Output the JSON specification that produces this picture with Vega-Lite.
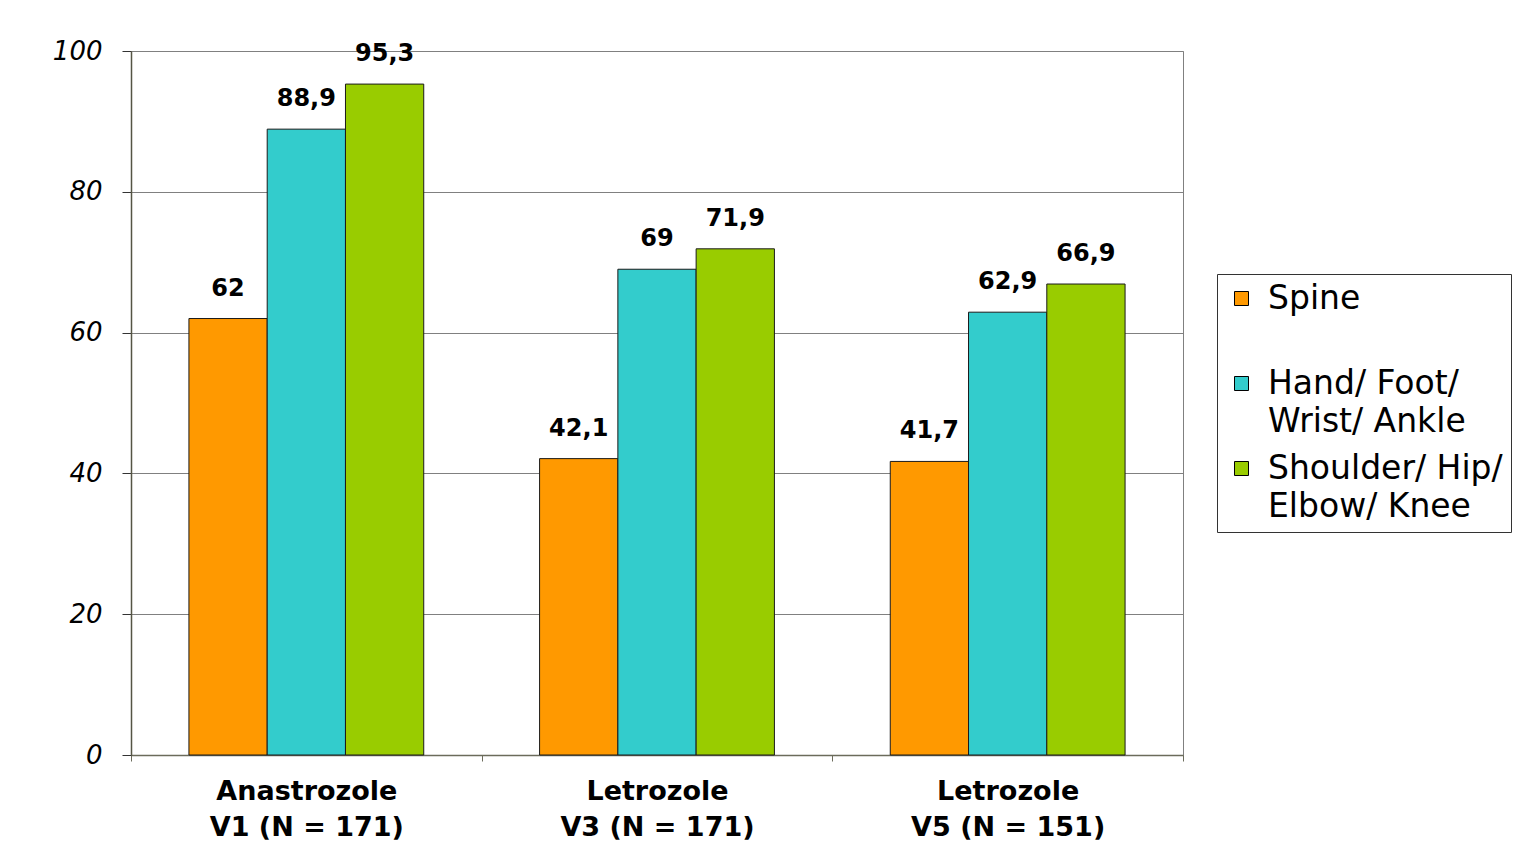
{
  "$schema": "https://vega.github.io/schema/vega-lite/v6.json",
  "width": 1052,
  "height": 704,
  "autosize": {"type": "none"},
  "padding": {"left": 131, "top": 51, "right": 331, "bottom": 111},
  "background": "white",
  "config": {
    "locale": {"number": {"decimal": ",", "thousands": ".", "grouping": [3], "currency": ["", " €"]}},
    "view": {"stroke": "#808080", "strokeWidth": 1},
    "font": "DejaVu Sans",
    "style": {"guide-label": {"lineHeight": 38}}
  },
  "data": {
    "values": [
      {"group": "Anastrozole V1 (N = 171)", "part": "Spine", "value": 62},
      {"group": "Anastrozole V1 (N = 171)", "part": "Hand/ Foot/ Wrist/ Ankle", "value": 88.9},
      {"group": "Anastrozole V1 (N = 171)", "part": "Shoulder/ Hip/ Elbow/ Knee", "value": 95.3},
      {"group": "Letrozole V3 (N = 171)", "part": "Spine", "value": 42.1},
      {"group": "Letrozole V3 (N = 171)", "part": "Hand/ Foot/ Wrist/ Ankle", "value": 69},
      {"group": "Letrozole V3 (N = 171)", "part": "Shoulder/ Hip/ Elbow/ Knee", "value": 71.9},
      {"group": "Letrozole V5 (N = 151)", "part": "Spine", "value": 41.7},
      {"group": "Letrozole V5 (N = 151)", "part": "Hand/ Foot/ Wrist/ Ankle", "value": 62.9},
      {"group": "Letrozole V5 (N = 151)", "part": "Shoulder/ Hip/ Elbow/ Knee", "value": 66.9}
    ]
  },
  "encoding": {
    "x": {
      "field": "group",
      "type": "nominal",
      "sort": ["Anastrozole V1 (N = 171)", "Letrozole V3 (N = 171)", "Letrozole V5 (N = 151)"],
      "scale": {"paddingInner": 0, "paddingOuter": 0},
      "axis": {
        "title": null,
        "labelAngle": 0,
        "labelExpr": "[slice(datum.label, 0, indexof(datum.label, ' V')), slice(datum.label, indexof(datum.label, ' V') + 1)]",
        "labelFont": "DejaVu Sans",
        "labelFontWeight": "bold",
        "labelFontSize": 27,
        "labelLineHeight": 36,
        "labelBaseline": "top",
        "labelColor": "#000000",
        "labelPadding": 17,
        "labelLimit": 0,
        "tickBand": "extent",
        "tickSize": 6,
        "tickColor": "#6b6b5b",
        "domainColor": "#6b6b5b",
        "domainWidth": 1.5,
        "grid": false
      }
    },
    "xOffset": {
      "field": "part",
      "type": "nominal",
      "sort": ["Spine", "Hand/ Foot/ Wrist/ Ankle", "Shoulder/ Hip/ Elbow/ Knee"],
      "scale": {"paddingInner": 0, "paddingOuter": 0.74}
    },
    "y": {
      "field": "value",
      "type": "quantitative",
      "scale": {"domain": [0, 100], "nice": false},
      "axis": {
        "title": null,
        "values": [0, 20, 40, 60, 80, 100],
        "labelFont": "DejaVu Sans",
        "labelFontStyle": "italic",
        "labelFontSize": 26,
        "labelColor": "#000000",
        "labelPadding": 20,
        "tickSize": 9,
        "tickColor": "#333333",
        "domainColor": "#555544",
        "domainWidth": 1.5,
        "grid": true,
        "gridColor": "#808080",
        "gridWidth": 1
      }
    }
  },
  "layer": [
    {
      "mark": {"type": "bar", "stroke": "#1a1a1a", "strokeWidth": 1},
      "encoding": {
        "color": {
          "field": "part",
          "type": "nominal",
          "sort": ["Spine", "Hand/ Foot/ Wrist/ Ankle", "Shoulder/ Hip/ Elbow/ Knee"],
          "scale": {
            "domain": ["Spine", "Hand/ Foot/ Wrist/ Ankle", "Shoulder/ Hip/ Elbow/ Knee"],
            "range": ["#FF9900", "#33CCCC", "#99CC00"]
          },
          "legend": {
            "title": null,
            "orient": "none",
            "legendX": 1086,
            "legendY": 223,
            "padding": 8,
            "strokeColor": "#333333",
            "fillColor": "#ffffff",
            "symbolType": "square",
            "symbolSize": 196,
            "symbolStrokeColor": "#000000",
            "symbolStrokeWidth": 1,
            "labelFont": "DejaVu Sans",
            "labelFontSize": 33,
            "labelColor": "#000000",
            "labelOffset": 10,
            "labelLimit": 500,
            "rowPadding": 13,
            "labelExpr": "datum.label == 'Spine' ? ['Spine', ''] : datum.label == 'Hand/ Foot/ Wrist/ Ankle' ? ['Hand/ Foot/', 'Wrist/ Ankle'] : ['Shoulder/ Hip/', '\u2003Elbow/ Knee']"
          }
        }
      }
    },
    {
      "mark": {"type": "text", "dy": -30, "baseline": "middle", "align": "center", "font": "DejaVu Sans", "fontWeight": "bold", "fontSize": 24, "color": "#000000"},
      "encoding": {
        "text": {"field": "value", "type": "quantitative", "format": ".1~f"}
      }
    }
  ]
}
